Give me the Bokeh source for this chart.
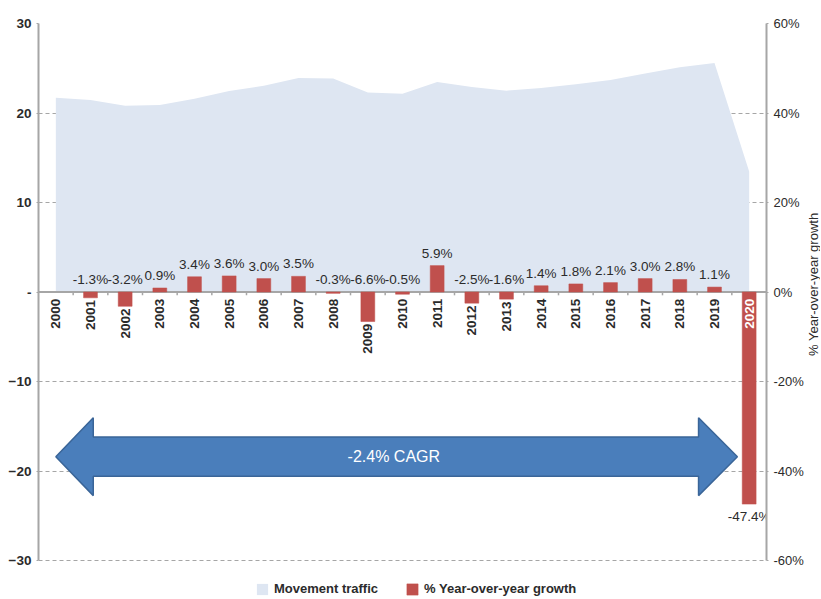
from math import pi

from bokeh.plotting import figure
from bokeh.layouts import row
from bokeh.models import (Range1d, LinearAxis, FixedTicker, PrintfTickFormatter,
                          ColumnDataSource, Legend, LegendItem, Label)
from bokeh.core.properties import value
from bokeh.embed import file_html
from bokeh.resources import INLINE

# ---------------- data ----------------
years = [str(y) for y in range(2000, 2021)]
traffic = [21.7, 21.45, 20.8, 20.9, 21.6, 22.45, 23.05, 23.9, 23.85, 22.3, 22.15,
           23.45, 22.9, 22.5, 22.8, 23.2, 23.7, 24.4, 25.1, 25.6, 13.45]
growth = [float("nan"), -1.3, -3.2, 0.9, 3.4, 3.6, 3.0, 3.5, -0.3, -6.6, -0.5,
          5.9, -2.5, -1.6, 1.4, 1.8, 2.1, 3.0, 2.8, 1.1, -47.4]
left_ticks = [-30, -20, -10, 0, 10, 20, 30]
right_ticks = [-60, -40, -20, 0, 20, 40, 60]
cagr_text = "-2.4% CAGR"
series_names = ["Movement traffic", "% Year-over-year growth"]
right_title = "% Year-over-year growth"

# ---------------- styles ----------------
FONT = "Liberation Sans"
TXT = "#2b2b2b"
AXC = "#a6a6a6"
AREA = "#dee6f2"
BAR = "#c0504d"
FS = "13.5px"

idx = list(range(len(years)))

H = 598
TOP = 23
PX_PER_UNIT = 8.95
# frame extends below -30 to leave room for the legend (axes are bounded to +-30)
LOW = 30 - (H - TOP) / PX_PER_UNIT

p = figure(width=806, height=H, x_range=Range1d(-0.5, len(years) - 0.5),
           y_range=Range1d(LOW, 30), output_backend="svg", toolbar_location=None,
           x_axis_location=None, min_border_left=38, min_border_right=38,
           min_border_top=TOP, min_border_bottom=0)
p.extra_y_ranges = {"pct": Range1d(2 * LOW, 60)}
p.outline_line_color = None
p.background_fill_color = "white"
p.xgrid.grid_line_color = None

# left axis
ya = p.yaxis[0]
ya.bounds = (left_ticks[0], left_ticks[-1])
ya.ticker = FixedTicker(ticks=left_ticks)
ya.major_label_overrides = {0: "-"}
ya.axis_line_color = AXC
ya.axis_line_width = 2
ya.major_tick_out = 2
ya.major_tick_in = 0
ya.major_tick_line_color = AXC
ya.minor_tick_out = 0
ya.minor_tick_in = 0
ya.major_label_standoff = 5
ya.major_label_text_font = FONT
ya.major_label_text_font_size = FS
ya.major_label_text_font_style = "bold"
ya.major_label_text_color = TXT

# grid
p.ygrid.ticker = FixedTicker(ticks=[t for t in left_ticks if t != 0])
p.ygrid.grid_line_dash = "4 3"
p.ygrid.grid_line_color = AXC
p.ygrid.grid_line_width = 1

# right axis (ticks and labels)
ra = LinearAxis(y_range_name="pct", ticker=FixedTicker(ticks=right_ticks),
                formatter=PrintfTickFormatter(format="%d%%"),
                bounds=(right_ticks[0], right_ticks[-1]))
ra.axis_line_color = AXC
ra.axis_line_width = 2
ra.major_tick_out = 2
ra.major_tick_in = 0
ra.major_tick_line_color = AXC
ra.minor_tick_out = 0
ra.minor_tick_in = 0
ra.major_label_standoff = 5
ra.major_label_text_font = FONT
ra.major_label_text_font_size = "13px"
ra.major_label_text_color = TXT
p.add_layout(ra, "right")

# area (movement traffic)
area_src = ColumnDataSource(dict(x=idx, y0=[0] * len(idx), y1=traffic))
area_r = p.varea(x="x", y1="y0", y2="y1", source=area_src, fill_color=AREA)

# zero line and category tick marks
p.segment(x0=[-0.5], x1=[len(years) - 0.5], y0=[0], y1=[0], line_color=AXC, line_width=2)
bounds = [i + 0.5 for i in idx[:-1]]
p.segment(x0=bounds, x1=bounds, y0=[0] * len(bounds), y1=[-0.37] * len(bounds),
          line_color=AXC, line_width=1.5)

# bars (growth, on % axis)
bar_src = ColumnDataSource(dict(x=idx, top=growth))
bar_r = p.vbar(x="x", top="top", bottom=0, width=0.4, source=bar_src,
               y_range_name="pct", fill_color=BAR, line_color=BAR, line_width=0.5)

# value labels
big = [g == g and g < -20 for g in growth]
nx, ny, nt, bx, by, bt = [], [], [], [], [], []
for i, g in enumerate(growth):
    if g != g:
        continue
    if big[i]:
        bx.append(i); by.append(g); bt.append(f"{g:.1f}%")
    else:
        nx.append(i); ny.append(max(g, 0)); nt.append(f"{g:.1f}%")
p.text(x=nx, y=ny, text=nt, y_range_name="pct", text_align="center",
       text_baseline="bottom", y_offset=-5, text_font=value(FONT),
       text_font_size=FS, text_color=TXT)
p.text(x=bx, y=by, text=bt, y_range_name="pct", text_align="center",
       text_baseline="top", y_offset=5, text_font=value(FONT),
       text_font_size=FS, text_color=TXT)

# year labels (rotated, below bars)
ly, lc = [], []
for i, g in enumerate(growth):
    if g == g and big[i]:
        ly.append(-1.5); lc.append("white")
    elif g == g:
        ly.append(min(-1.5, g - 0.5)); lc.append(TXT)
    else:
        ly.append(-1.5); lc.append(TXT)
yl_src = ColumnDataSource(dict(x=idx, y=ly, t=years, c=lc))
p.text(x="x", y="y", text="t", text_color="c", source=yl_src, y_range_name="pct",
       angle=pi / 2, text_align="right", text_baseline="middle",
       text_font=value(FONT), text_font_size=FS, text_font_style="bold")

# CAGR arrow
c, hh, sh = -18.4, 4.35, 2.2
ax = [0.0, 1.08, 1.08, 18.54, 18.54, 19.66, 18.54, 18.54, 1.08, 1.08]
ay = [c, c + hh, c + sh, c + sh, c + hh, c, c - hh, c - sh, c - sh, c - hh]
p.patch(ax, ay, fill_color="#4a7ebb", line_color="#3a6598", line_width=1.5)
p.add_layout(Label(x=9.75, y=c, text=cagr_text, text_color="white",
                   text_font=FONT, text_font_size="16px",
                   text_align="center", text_baseline="middle"))

# legend (inside the extended frame, below the -30 line)
leg = Legend(items=[LegendItem(label=series_names[0], renderers=[area_r]),
                    LegendItem(label=series_names[1], renderers=[bar_r])],
             orientation="horizontal", location=(217, 2), glyph_width=14,
             glyph_height=14, label_height=14, label_standoff=5, spacing=27,
             padding=0, margin=0, border_line_alpha=0, background_fill_alpha=0,
             label_text_font=FONT, label_text_font_size="13px",
             label_text_font_style="bold", label_text_color=TXT)
p.add_layout(leg)

# narrow strip to the right holding the right-axis title (reads bottom-to-top)
t = figure(width=14, height=H, x_range=Range1d(0, 1), y_range=Range1d(LOW, 30),
           output_backend="svg", toolbar_location=None, x_axis_location=None,
           y_axis_location=None, min_border_left=0, min_border_right=0,
           min_border_top=TOP, min_border_bottom=0)
t.outline_line_color = None
t.grid.visible = False
t.text(x=[0.5], y=[0.86], text=[right_title], angle=pi / 2, text_align="center",
       text_baseline="middle", text_font=value(FONT), text_font_size="13px",
       text_color=TXT)

open("out.html", "w").write(file_html(row(p, t), INLINE))
